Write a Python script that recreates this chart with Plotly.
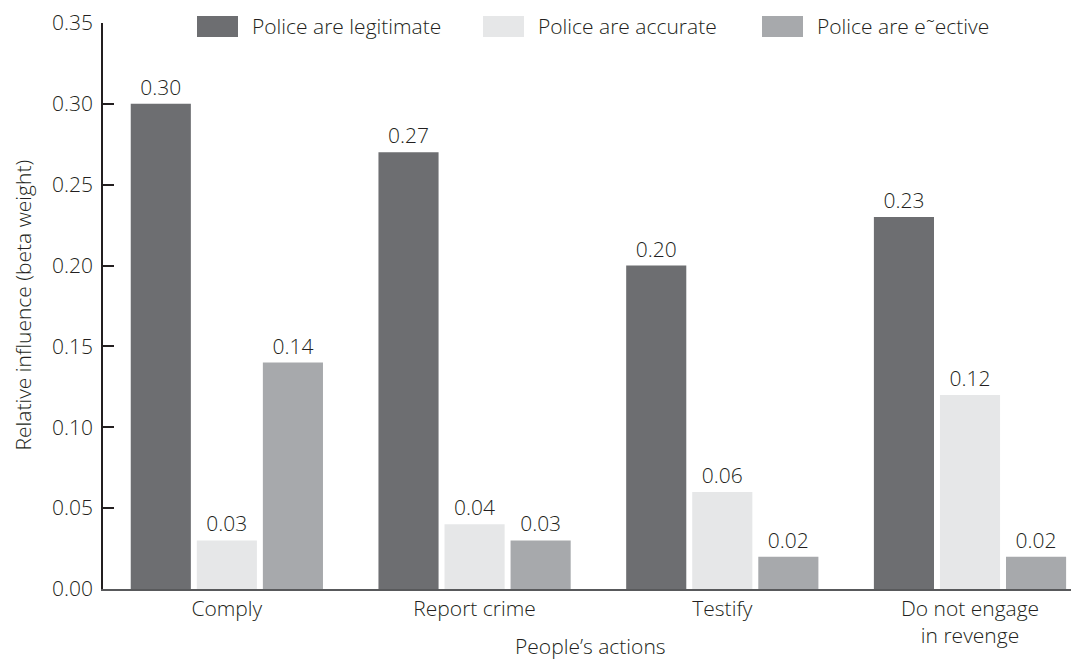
import plotly.graph_objects as go

categories = ["Comply", "Report crime", "Testify", "Do not engage<br>in revenge"]
series_names = ["Police are legitimate", "Police are accurate", "Police are e\u02dcective"]
legitimate = [0.30, 0.27, 0.20, 0.23]
accurate = [0.03, 0.04, 0.06, 0.12]
effective = [0.14, 0.03, 0.02, 0.02]
colors = ["#6d6e71", "#e6e7e8", "#a7a9ac"]
y_ticks = [0.00, 0.05, 0.10, 0.15, 0.20, 0.25, 0.30, 0.35]

FONT = "Open Sans"
TXT = "#231f20"
FS = 21

OFF = 8  # page body margin
W, H = 1079 - OFF, 661 - OFF
ml, mr, mt = 103 - OFF, 0, 20 - OFF
mb = H - (589 - OFF)
pw, ph = W - ml - mr, H - mt - mb

def px(x):
    return (x - OFF - ml) / pw

def py(y):
    return (H - mb - (y - OFF)) / ph

fig = go.Figure()
for name, vals, col in zip(series_names, [legitimate, accurate, effective], colors):
    fig.add_trace(go.Bar(
        x=categories, y=vals, name=name, marker=dict(color=col, line=dict(width=0)),
        texttemplate="%{y:.2f}", textposition="outside", cliponaxis=False,
        textfont=dict(family=FONT, size=FS, color=TXT, weight=300), showlegend=False,
    ))

legend_items = [(197, 238, 250), (483, 524, 536), (762, 803, 815)]
shapes = []
annotations = []
for (x0, x1, tx), name, col in zip(legend_items, series_names, colors):
    shapes.append(dict(type="rect", xref="paper", yref="paper", x0=px(x0), x1=px(x1),
                       y0=py(34), y1=py(13), fillcolor=col, line=dict(width=0)))
    annotations.append(dict(text=name, xref="paper", yref="paper", x=px(tx), y=py(23.5),
                            xanchor="left", yanchor="middle", showarrow=False,
                            font=dict(family=FONT, size=FS, color=TXT, weight=300)))

annotations.append(dict(text="People\u2019s actions", xref="paper", yref="paper",
                        x=px(590), y=py(646), xanchor="center", yanchor="middle",
                        showarrow=False, font=dict(family=FONT, size=FS, color=TXT, weight=300)))
annotations.append(dict(text="Relative influence (beta weight)", xref="paper", yref="paper",
                        x=px(23), y=py(304), xanchor="center", yanchor="middle", textangle=-90,
                        showarrow=False, font=dict(family=FONT, size=FS, color=TXT, weight=300)))

fig.update_layout(
    width=W, height=H,
    margin=dict(l=ml, r=mr, t=mt, b=mb),
    plot_bgcolor="white", paper_bgcolor="white",
    barmode="group", bargap=0.2, bargroupgap=0.09,
    font=dict(family=FONT, size=FS, color=TXT, weight=300),
    shapes=shapes, annotations=annotations,
    xaxis=dict(
        range=[-0.5, 3.44], showline=True, linecolor="#58595b", linewidth=1.5,
        ticks="", showgrid=False, tickfont=dict(size=FS, color=TXT, weight=300),
    ),
    yaxis=dict(
        range=[0, 0.35], tickvals=y_ticks, tickformat=".2f",
        showline=True, linecolor="#231f20", linewidth=1.5,
        ticks="inside", ticklen=11, tickwidth=1.5, tickcolor="#231f20",
        ticklabelstandoff=4, ticklabeloverflow="allow",
        showgrid=False, zeroline=False, tickfont=dict(size=FS, color=TXT, weight=300),
    ),
)

fig.write_html("out.html")
